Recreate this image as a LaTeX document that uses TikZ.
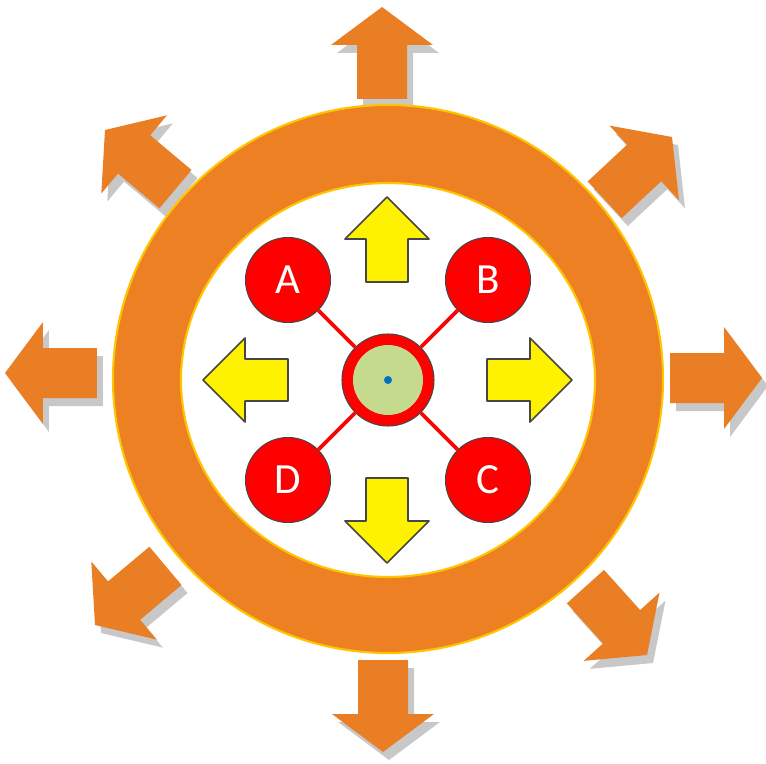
\documentclass[tikz,border=0pt]{standalone}
\usepackage{fontspec}
\newfontfamily\letterfont{Carlito}
\definecolor{ringorange}{RGB}{236,128,34}
\definecolor{arroworange}{RGB}{234,126,36}
\definecolor{rimgold}{RGB}{255,196,0}
\definecolor{shadowgray}{RGB}{200,200,200}
\definecolor{outline}{RGB}{70,70,70}
\definecolor{padgreen}{RGB}{196,218,140}
\definecolor{dotblue}{RGB}{0,112,192}
\begin{document}
\begin{tikzpicture}[x=0.2mm,y=0.2mm,line join=round,
	shadow/.style={fill=shadowgray},
	bigarrow/.style={fill=arroworange},
	smallarrow/.style={fill=yellow,draw=outline,line width=1pt},
	letter/.style={circle,minimum size=17mm,inner sep=0pt,fill=red,draw=outline,line width=0.6pt,text=white,font=\letterfont\fontsize{24.5}{28}\selectfont},
	hub/.style={circle,minimum size=18.4mm,inner sep=0pt,fill=red,draw=outline,line width=0.6pt},
	spoke/.style={red,line width=2.2pt}]
			\fill[white] (-388,-383) rectangle (378,380);
			\useasboundingbox (-388,-383) rectangle (378,380);
			% shadows of the outer arrows
			\fill[shadow,shift={(0,365)},rotate=90] (0,0) -- (-38,51) -- (-38,25) -- (-92,25) -- (-92,-25) -- (-38,-25) -- (-38,-51) -- cycle;
			\fill[shadow,shift={(290,235)},rotate=43] (0,0) -- (-38,51) -- (-38,25) -- (-92,25) -- (-92,-25) -- (-38,-25) -- (-38,-51) -- cycle;
			\fill[shadow,shift={(380,-6)},rotate=0] (0,0) -- (-38,51) -- (-38,25) -- (-92,25) -- (-92,-25) -- (-38,-25) -- (-38,-51) -- cycle;
			\fill[shadow,shift={(265,-283)},rotate=-48] (0,0) -- (-38,51) -- (-38,25) -- (-92,25) -- (-92,-25) -- (-38,-25) -- (-38,-51) -- cycle;
			\fill[shadow,shift={(1,-380)},rotate=-90] (0,0) -- (-38,51) -- (-38,25) -- (-92,25) -- (-92,-25) -- (-38,-25) -- (-38,-51) -- cycle;
			\fill[shadow,shift={(-287,-253)},rotate=-140] (0,0) -- (-38,51) -- (-38,25) -- (-92,25) -- (-92,-25) -- (-38,-25) -- (-38,-51) -- cycle;
			\fill[shadow,shift={(-377,-1)},rotate=180] (0,0) -- (-38,51) -- (-38,25) -- (-92,25) -- (-92,-25) -- (-38,-25) -- (-38,-51) -- cycle;
			\fill[shadow,shift={(-277,242)},rotate=140] (0,0) -- (-38,51) -- (-38,25) -- (-92,25) -- (-92,-25) -- (-38,-25) -- (-38,-51) -- cycle;
			% outer arrows
			\fill[bigarrow,shift={(-6,373)},rotate=90] (0,0) -- (-38,51) -- (-38,25) -- (-92,25) -- (-92,-25) -- (-38,-25) -- (-38,-51) -- cycle;
			\fill[bigarrow,shift={(284,243)},rotate=43] (0,0) -- (-38,51) -- (-38,25) -- (-92,25) -- (-92,-25) -- (-38,-25) -- (-38,-51) -- cycle;
			\fill[bigarrow,shift={(374,2)},rotate=0] (0,0) -- (-38,51) -- (-38,25) -- (-92,25) -- (-92,-25) -- (-38,-25) -- (-38,-51) -- cycle;
			\fill[bigarrow,shift={(259,-275)},rotate=-48] (0,0) -- (-38,51) -- (-38,25) -- (-92,25) -- (-92,-25) -- (-38,-25) -- (-38,-51) -- cycle;
			\fill[bigarrow,shift={(-5,-372)},rotate=-90] (0,0) -- (-38,51) -- (-38,25) -- (-92,25) -- (-92,-25) -- (-38,-25) -- (-38,-51) -- cycle;
			\fill[bigarrow,shift={(-293,-245)},rotate=-140] (0,0) -- (-38,51) -- (-38,25) -- (-92,25) -- (-92,-25) -- (-38,-25) -- (-38,-51) -- cycle;
			\fill[bigarrow,shift={(-383,7)},rotate=180] (0,0) -- (-38,51) -- (-38,25) -- (-92,25) -- (-92,-25) -- (-38,-25) -- (-38,-51) -- cycle;
			\fill[bigarrow,shift={(-283,250)},rotate=140] (0,0) -- (-38,51) -- (-38,25) -- (-92,25) -- (-92,-25) -- (-38,-25) -- (-38,-51) -- cycle;
			% ring
			\fill[ringorange,even odd rule] (0,1) ellipse [x radius=275,y radius=274] (0,0) ellipse [x radius=207,y radius=197];
			\draw[rimgold,line width=1.2pt] (0,1) ellipse [x radius=275,y radius=274];
			\draw[rimgold,line width=1.2pt] (0,0) ellipse [x radius=207,y radius=197];
			% inner arrows
			\filldraw[smallarrow,shift={(-1,183)},rotate=90] (0,0) -- (-42,42) -- (-42,21) -- (-85,21) -- (-85,-21) -- (-42,-21) -- (-42,-42) -- cycle;
			\filldraw[smallarrow,shift={(184,0)},rotate=0] (0,0) -- (-42,42) -- (-42,21) -- (-85,21) -- (-85,-21) -- (-42,-21) -- (-42,-42) -- cycle;
			\filldraw[smallarrow,shift={(-1,-183)},rotate=-90] (0,0) -- (-42,42) -- (-42,21) -- (-85,21) -- (-85,-21) -- (-42,-21) -- (-42,-42) -- cycle;
			\filldraw[smallarrow,shift={(-185,0)},rotate=180] (0,0) -- (-42,42) -- (-42,21) -- (-85,21) -- (-85,-21) -- (-42,-21) -- (-42,-42) -- cycle;
			% hub and the four points
			\node[hub] (hub) at (0,0) {};
			\node[letter] (a) at (-100,100) {A};
			\node[letter] (b) at (100,100) {B};
			\node[letter] (c) at (100,-100) {C};
			\node[letter] (d) at (-100,-100) {D};
			\draw[spoke] (hub) -- (a);
			\draw[spoke] (hub) -- (b);
			\draw[spoke] (hub) -- (c);
			\draw[spoke] (hub) -- (d);
			\fill[padgreen] (hub.center) circle (35);
			\fill[dotblue] (hub.center) circle (4);
\end{tikzpicture}
\end{document}
